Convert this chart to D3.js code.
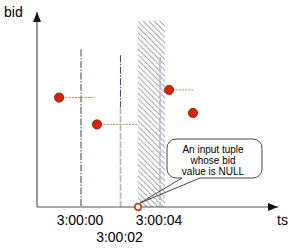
<!DOCTYPE html>
<meta charset="utf-8">
<style>
body { margin: 0; background: #fff; }
svg text { font-family: "Liberation Sans", Arial, sans-serif; fill: #000; }
.lbl { font-size: 14px; }
.note { font-size: 10px; }
</style>
<body>
<svg width="295" height="249"></svg>
<script src="https://d3js.org/d3.v7.min.js"></script>
<script>

// seconds after 3:00:00
var tupleTs  = [-1.11, 0.81, 4.46, 5.67],
    tupleBid = [57, 43, 61, 49],
    stepEnd  = [0.71, 2.89, 5.67, null];   // dotted line runs to here

var nullTs = 2.89;

var tickTs    = [0, 2, 4],
    tickLabel = ["3:00:00", "3:00:02", "3:00:04"],
    tickTop   = [82, 79, 78];               // bid level where each window line starts
var hatchFrom = 2.89, hatchTo = 4.25, hatchTop = 97;

var noteLines = ["An input tuple", "whose bid", "value is NULL"];

var svg = d3.select("svg"),
    x0 = 37, y0 = 207;

var x = d3.scaleLinear().domain([0, 4]).range([81, 160]),
    y = d3.scaleLinear().domain([0, 100]).range([y0, 15]);

var defs = svg.append("defs");
var pat = defs.append("pattern")
    .attr("id", "hatch")
    .attr("patternUnits", "userSpaceOnUse")
    .attr("width", 3.9).attr("height", 3.9)
    .attr("patternTransform", "rotate(-45)");
pat.append("line")
    .attr("x1", 0.5).attr("y1", -2).attr("x2", 0.5).attr("y2", 6)
    .attr("stroke", "#555").attr("stroke-width", 0.7)
    .attr("stroke-dasharray", "1.3,0.5");

defs.append("marker")
    .attr("id", "arrow")
    .attr("viewBox", "0 0 10 8")
    .attr("refX", 10).attr("refY", 4)
    .attr("markerUnits", "userSpaceOnUse")
    .attr("markerWidth", 11).attr("markerHeight", 8)
    .attr("orient", "auto")
  .append("path")
    .attr("d", "M0,0L10,4L0,8Z")
    .attr("fill", "#111");

// hatched window
svg.append("rect")
    .attr("x", x(hatchFrom))
    .attr("y", y(hatchTop))
    .attr("width", x(hatchTo) - x(hatchFrom))
    .attr("height", y0 - y(hatchTop))
    .attr("fill", "url(#hatch)");

// window boundary lines
svg.selectAll(".win")
    .data(tickTs)
  .enter().append("line")
    .attr("class", "win")
    .attr("x1", function(d) { return x(d); })
    .attr("x2", function(d) { return x(d); })
    .attr("y1", function(d, i) { return y(tickTop[i]); })
    .attr("y2", y0)
    .attr("stroke", function(d, i) { return i == 2 ? "#b4b4d0" : "#4f4f75"; })
    .attr("stroke-width", function(d, i) { return i == 2 ? 1.6 : 1.1; })
    .attr("stroke-dasharray", function(d, i) { return i == 2 ? "7,1.5" : "7,1.5,1.5,1.5"; });

// lower part of the middle line is faded
svg.append("line")
    .attr("x1", x(2)).attr("x2", x(2))
    .attr("y1", y(52)).attr("y2", y0)
    .attr("stroke", "#fff").attr("stroke-width", 2);
svg.append("line")
    .attr("x1", x(2)).attr("x2", x(2))
    .attr("y1", y(52)).attr("y2", y0)
    .attr("stroke", "#b4b4d0").attr("stroke-width", 1.6)
    .attr("stroke-dasharray", "7,1.5");

// dotted steps
svg.selectAll(".step")
    .data(tupleTs.filter(function(d, i) { return stepEnd[i] != null; }))
  .enter().append("line")
    .attr("class", "step")
    .attr("x1", function(d) { return x(d); })
    .attr("x2", function(d, i) { return x(stepEnd[i]); })
    .attr("y1", function(d, i) { return y(tupleBid[i]); })
    .attr("y2", function(d, i) { return y(tupleBid[i]); })
    .attr("stroke", "#b08a68")
    .attr("stroke-width", 1)
    .attr("stroke-dasharray", "2,1.2");

// axes
svg.append("line")
    .attr("x1", x0).attr("y1", y0).attr("x2", x0).attr("y2", 12)
    .attr("stroke", "#555").attr("stroke-width", 1.2)
    .attr("marker-end", "url(#arrow)");
svg.append("line")
    .attr("x1", x0).attr("y1", y0).attr("x2", 278).attr("y2", y0)
    .attr("stroke", "#555").attr("stroke-width", 1.2)
    .attr("marker-end", "url(#arrow)");

svg.append("text").attr("class", "lbl").attr("x", 4).attr("y", 17).text("bid");
svg.append("text").attr("class", "lbl").attr("x", 277).attr("y", 225).text("ts");

svg.selectAll(".tick")
    .data(tickTs)
  .enter().append("text")
    .attr("class", "lbl")
    .attr("text-anchor", "middle")
    .attr("x", function(d) { return x(d) - 1; })
    .attr("y", function(d, i) { return i == 1 ? 242 : 225; })
    .text(function(d, i) { return tickLabel[i]; });

// tuples
svg.selectAll(".pt")
    .data(tupleTs)
  .enter().append("circle")
    .attr("class", "pt")
    .attr("cx", function(d) { return x(d); })
    .attr("cy", function(d, i) { return y(tupleBid[i]); })
    .attr("r", 4.6)
    .attr("fill", "#dd2200")
    .attr("stroke", "#7a1a00")
    .attr("stroke-width", 0.8);

svg.append("circle")
    .attr("cx", x(nullTs)).attr("cy", y0)
    .attr("r", 3.3)
    .attr("fill", "#fff")
    .attr("stroke", "#b04a10")
    .attr("stroke-width", 1.8);

// callout
var bx = 167, by = 139, bw = 95, bh = 39, r = 9,
    tip = [x(nullTs) + 2, y0 - 4], t1 = 182, t2 = 200;

svg.append("rect")
    .attr("x", bx).attr("y", by).attr("width", bw).attr("height", bh)
    .attr("rx", r).attr("fill", "#fff");

var p = d3.path();
p.moveTo(t1, by + bh);
p.lineTo(bx + r, by + bh);
p.arcTo(bx, by + bh, bx, by + bh - r, r);
p.lineTo(bx, by + r);
p.arcTo(bx, by, bx + r, by, r);
p.lineTo(bx + bw - r, by);
p.arcTo(bx + bw, by, bx + bw, by + r, r);
p.lineTo(bx + bw, by + bh - r);
p.arcTo(bx + bw, by + bh, bx + bw - r, by + bh, r);
p.lineTo(t2, by + bh);
p.lineTo(tip[0], tip[1]);
p.lineTo(t1, by + bh);

svg.append("path")
    .attr("d", p.toString())
    .attr("fill", "none")
    .attr("stroke", "#333")
    .attr("stroke-width", 0.9);

svg.selectAll(".note")
    .data(noteLines)
  .enter().append("text")
    .attr("class", "note")
    .attr("text-anchor", "middle")
    .attr("x", 213)
    .attr("y", function(d, i) { return 153 + i * 11; })
    .text(function(d) { return d; });

</script>
</body>
